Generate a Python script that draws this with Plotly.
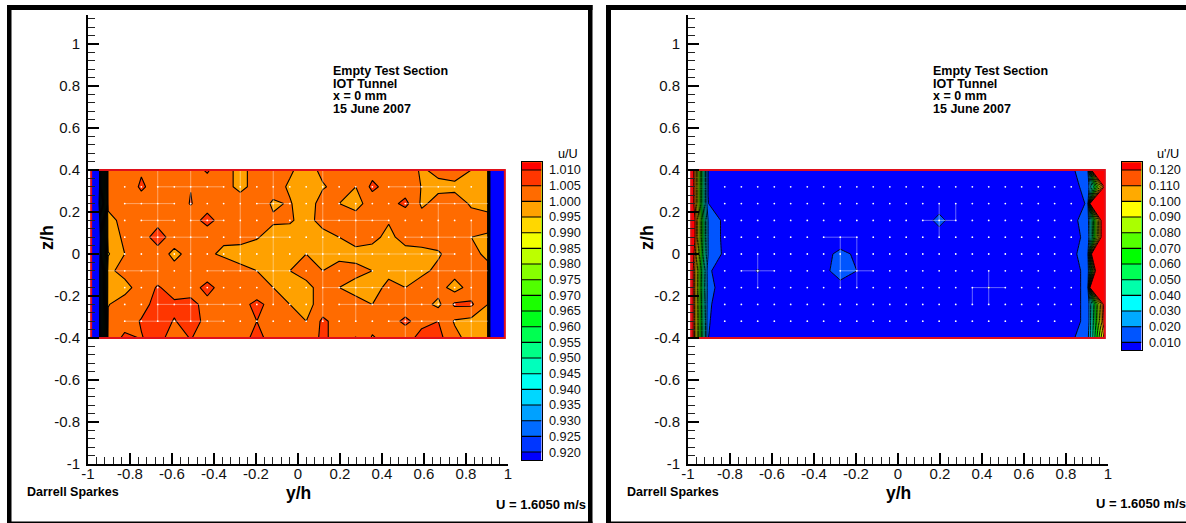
import plotly.graph_objects as go

W, H = 1186, 523

# ---- data -------------------------------------------------------------
y_pos = [-0.985, -0.904, -0.825, -0.746, -0.668, -0.589, -0.511, -0.432, -0.354, -0.275, -0.196, -0.118, -0.039,
         0.039, 0.118, 0.196, 0.275, 0.354, 0.432, 0.511, 0.589, 0.668, 0.746, 0.825, 0.904, 0.985]
z_pos = [0.4, 0.32, 0.24, 0.16, 0.08, 0.0, -0.08, -0.16, -0.24, -0.32, -0.4]

u_mean = [
 [0.84, 1.002, 1.002, 1.0045, 1.003, 1.003, 1.003, 1.0055, 1.002, 0.9985, 1.002, 1.002, 1.0005, 0.9985, 1.0008, 1.002, 1.003, 1.003, 1.003, 1.002, 0.9995, 1.001, 1.002, 1.0, 0.9985, 0.30],
 [0.84, 1.002, 1.002, 1.0057, 1.003, 1.003, 1.0049, 1.003, 1.002, 0.9985, 1.002, 1.0015, 0.9995, 0.998, 0.9997, 1.001, 1.0, 1.0062, 1.003, 1.002, 0.9999, 0.999, 0.999, 0.9999, 0.9999, 0.30],
 [0.85, 1.0012, 1.002, 1.003, 1.003, 1.003, 1.0052, 1.003, 1.003, 1.003, 1.002, 0.9995, 1.0003, 0.998, 1.0015, 1.0, 0.9985, 1.002, 1.003, 1.0065, 0.9992, 1.0015, 1.002, 0.9995, 0.9985, 0.30],
 [0.84, 0.9985, 1.0015, 1.003, 1.0035, 1.003, 1.003, 1.0065, 1.003, 1.002, 1.0015, 1.0005, 1.0005, 0.9985, 1.0015, 1.002, 1.002, 1.002, 1.0003, 1.0001, 1.002, 1.0, 1.002, 1.0015, 1.0015, 0.30],
 [0.83, 0.9985, 1.0005, 1.003, 1.007, 1.003, 1.003, 1.002, 1.0005, 1.0012, 1.0003, 0.9985, 0.998, 0.998, 0.9985, 1.0, 1.002, 1.001, 0.999, 1.0015, 1.0015, 1.002, 1.002, 1.0, 0.9995, 0.30],
 [0.84, 0.9945, 1.0, 1.002, 1.003, 0.9985, 1.002, 1.0005, 0.9995, 0.9985, 0.998, 0.998, 0.9985, 1.0, 0.9985, 0.9985, 0.9985, 0.9985, 0.9985, 0.9985, 0.999, 0.9995, 1.002, 1.002, 0.9985, 0.30],
 [0.84, 0.999, 1.0015, 1.002, 1.002, 1.002, 1.002, 1.002, 1.002, 1.001, 1.0, 0.9985, 1.0, 1.002, 1.0, 1.002, 1.0012, 1.0, 0.999, 0.9985, 0.999, 1.001, 1.002, 1.002, 1.002, 0.30],
 [0.84, 0.999, 0.9985, 1.002, 1.0055, 1.003, 1.003, 1.0065, 1.003, 1.002, 1.001, 1.0, 0.9985, 0.9985, 1.002, 1.0, 0.9985, 0.9985, 1.001, 1.0, 1.002, 1.002, 0.998, 1.002, 1.002, 0.30],
 [0.84, 0.9998, 1.002, 1.0035, 1.0065, 1.0058, 1.0063, 1.0035, 1.003, 1.003, 1.0065, 1.003, 1.0, 0.9985, 1.002, 1.002, 1.0015, 1.0, 1.002, 1.002, 1.002, 0.9988, 1.0058, 1.0058, 1.0, 0.30],
 [0.84, 1.001, 1.003, 1.0053, 1.0065, 1.0048, 1.0065, 1.004, 1.003, 1.003, 1.005, 1.003, 1.002, 1.0, 1.006, 1.003, 1.002, 1.002, 1.003, 1.006, 1.003, 1.005, 0.9995, 0.9985, 0.998, 0.30],
 [0.84, 1.002, 1.006, 1.0048, 1.0065, 1.003, 1.0052, 1.003, 1.002, 1.003, 1.0065, 1.003, 1.003, 1.002, 1.006, 1.003, 1.0052, 0.9995, 1.002, 1.002, 1.0075, 1.0065, 1.0015, 0.998, 0.998, 0.30],
]
u_rms = [
 [0.14, 0.0099, 0.006, 0.006, 0.006, 0.005, 0.006, 0.006, 0.006, 0.006, 0.006, 0.006, 0.006, 0.006, 0.006, 0.006, 0.006, 0.006, 0.006, 0.006, 0.006, 0.006, 0.006, 0.008, 0.0175, 0.50],
 [0.14, 0.0099, 0.006, 0.006, 0.006, 0.006, 0.006, 0.006, 0.006, 0.006, 0.006, 0.006, 0.006, 0.006, 0.006, 0.006, 0.006, 0.006, 0.006, 0.006, 0.006, 0.006, 0.006, 0.007, 0.013, 0.125],
 [0.14, 0.0101, 0.006, 0.006, 0.006, 0.006, 0.006, 0.006, 0.006, 0.006, 0.006, 0.006, 0.006, 0.006, 0.006, 0.007, 0.006, 0.006, 0.006, 0.006, 0.006, 0.006, 0.006, 0.005, 0.0111, 0.90],
 [0.15, 0.0195, 0.00675, 0.006, 0.006, 0.006, 0.006, 0.006, 0.006, 0.006, 0.006, 0.006, 0.006, 0.006, 0.007, 0.0118, 0.007, 0.006, 0.006, 0.006, 0.006, 0.006, 0.006, 0.007, 0.0147, 0.15],
 [0.15, 0.0195, 0.00675, 0.006, 0.006, 0.006, 0.006, 0.006, 0.006, 0.008, 0.007, 0.006, 0.006, 0.006, 0.006, 0.007, 0.006, 0.006, 0.006, 0.006, 0.006, 0.006, 0.006, 0.007, 0.0123, 0.15],
 [0.14, 0.0195, 0.0076, 0.006, 0.0075, 0.006, 0.006, 0.006, 0.009, 0.0108, 0.0095, 0.006, 0.006, 0.006, 0.006, 0.006, 0.006, 0.006, 0.006, 0.006, 0.006, 0.006, 0.006, 0.007, 0.016, 0.50],
 [0.135, 0.0119, 0.003, 0.0075, 0.0103, 0.0075, 0.006, 0.006, 0.0085, 0.0125, 0.0100, 0.006, 0.006, 0.006, 0.006, 0.006, 0.006, 0.006, 0.0085, 0.006, 0.006, 0.006, 0.006, 0.007, 0.0123, 0.25],
 [0.135, 0.0135, 0.005, 0.006, 0.0075, 0.006, 0.006, 0.006, 0.006, 0.008, 0.007, 0.006, 0.006, 0.006, 0.006, 0.006, 0.0085, 0.0085, 0.0101, 0.0085, 0.006, 0.006, 0.006, 0.007, 0.0123, 0.90],
 [0.135, 0.0119, 0.003, 0.006, 0.006, 0.006, 0.006, 0.006, 0.006, 0.006, 0.006, 0.006, 0.006, 0.006, 0.006, 0.006, 0.006, 0.006, 0.0085, 0.006, 0.006, 0.006, 0.006, 0.007, 0.0123, 0.13],
 [0.135, 0.0107, 0.005, 0.006, 0.006, 0.006, 0.006, 0.006, 0.006, 0.006, 0.006, 0.006, 0.006, 0.006, 0.006, 0.006, 0.006, 0.006, 0.006, 0.006, 0.006, 0.006, 0.006, 0.007, 0.0123, 0.125],
 [0.135, 0.0101, 0.006, 0.006, 0.006, 0.006, 0.006, 0.006, 0.006, 0.006, 0.006, 0.006, 0.006, 0.006, 0.006, 0.006, 0.006, 0.006, 0.006, 0.006, 0.006, 0.006, 0.006, 0.008, 0.0175, 0.105],
]

# mesh lines shown in white: (first column, first row, last column, last row), as grid indices
mesh_u = [(3, 3, 5, 3), (6, 3, 8, 3), (2, 2, 5, 2), (1, 6, 4, 6), (4, 8, 9, 8), (2, 9, 8, 9), (9, 4, 12, 4),
          (10, 2, 12, 2), (13, 3, 18, 3), (13, 5, 22, 5), (14, 7, 18, 7), (18, 9, 24, 9), (15, 8, 22, 8),
          (18, 6, 24, 6), (19, 4, 24, 4), (19, 2, 24, 2), (18, 1, 22, 1), (4, 0, 4, 9), (6, 0, 6, 9), (9, 0, 9, 6),
          (11, 0, 11, 8), (14, 0, 14, 9), (16, 2, 16, 9), (19, 6, 19, 10), (21, 2, 21, 8), (23, 3, 23, 10),
          (3, 4, 7, 4), (7, 6, 12, 6), (4, 1, 8, 1)]
mesh_rms = [(3, 6, 5, 6), (4, 5, 4, 7), (8, 4, 10, 4), (10, 4, 10, 7), (9, 4, 9, 7), (9, 6, 11, 6),
            (14, 3, 16, 3), (15, 2, 15, 4), (16, 2, 16, 3), (17, 7, 19, 7), (18, 6, 18, 8), (17, 7, 17, 8)]

levels_u = [0.920, 0.925, 0.930, 0.935, 0.940, 0.945, 0.950, 0.955, 0.960, 0.965,
            0.970, 0.975, 0.980, 0.985, 0.990, 0.995, 1.000, 1.005, 1.010]
levels_rms = [0.010, 0.020, 0.030, 0.040, 0.050, 0.060, 0.070, 0.080, 0.090, 0.100, 0.110, 0.120]

axis_ticks = [-1, -0.8, -0.6, -0.4, -0.2, 0, 0.2, 0.4, 0.6, 0.8, 1]
axis_labels = ["-1", "-0.8", "-0.6", "-0.4", "-0.2", "0", "0.2", "0.4", "0.6", "0.8", "1"]
header_lines = ["Empty Test Section", "IOT Tunnel", "x = 0 mm", "15 June 2007"]

# ---- styling ------------------------------------------------------------
FONT = "Liberation Sans"


def px(x):
    return x / W


def py(y):
    return 1 - y / H


def rainbow(t):
    stops = [(0, 0, 255), (0, 255, 255), (0, 255, 0), (255, 255, 0), (255, 0, 0)]
    s = min(t * 4, 3.9999)
    i = int(s)
    f = s - i
    return tuple(round(stops[i][k] + (stops[i + 1][k] - stops[i][k]) * f) for k in range(3))


def band_scale(n):
    scale = []
    for i in range(n):
        c = "rgb(%d,%d,%d)" % rainbow(i / (n - 1))
        scale.append([i / n, c])
        scale.append([(i + 1) / n, c])
    return scale


def contour(x, y, z, levels, xaxis, yaxis, width):
    step = round(levels[1] - levels[0], 6)
    return go.Contour(
        x=x, y=y, z=z, xaxis=xaxis, yaxis=yaxis, autocontour=False,
        contours=dict(start=levels[0], end=levels[-1], size=step, coloring="fill", showlines=True),
        line=dict(color="black", width=width, smoothing=0),
        colorscale=band_scale(len(levels) + 1),
        zmin=levels[0] - step, zmax=levels[-1] + step,
        hoverinfo="skip", showscale=False,
    )


def legend_range(levels):
    half = (levels[1] - levels[0]) / 2
    return [levels[0] - half, levels[-1] + half]


def legend_trace(levels, xaxis, yaxis):
    lo, hi = legend_range(levels)
    return contour([0, 1], [lo, hi], [[lo, lo], [hi, hi]], levels, xaxis, yaxis, 1.1)


def mesh(segs, xaxis, yaxis):
    xs, ys = [], []
    for c0, r0, c1, r1 in segs:
        xs += [y_pos[c0], y_pos[c1], None]
        ys += [z_pos[r0], z_pos[r1], None]
    return go.Scatter(x=xs, y=ys, mode="lines", xaxis=xaxis, yaxis=yaxis, hoverinfo="skip", showlegend=False,
                      line=dict(color="rgba(255,255,255,0.4)", width=1))


def dots(xaxis, yaxis):
    xs = [a for a in y_pos[2:-2] for _ in z_pos[1:-1]]
    ys = [b for _ in y_pos[2:-2] for b in z_pos[1:-1]]
    return go.Scatter(x=xs, y=ys, mode="markers", xaxis=xaxis, yaxis=yaxis, hoverinfo="skip", showlegend=False,
                      marker=dict(color="white", size=1.8, line=dict(width=0)))


def border(xaxis, yaxis):
    xs = [y_pos[0], y_pos[-1], y_pos[-1], y_pos[0], y_pos[0]]
    ys = [z_pos[0], z_pos[0], z_pos[-1], z_pos[-1], z_pos[0]]
    return go.Scatter(x=xs, y=ys, mode="lines", xaxis=xaxis, yaxis=yaxis, hoverinfo="skip", showlegend=False,
                      line=dict(color="#e0101a", width=2))


fig = go.Figure()
fig.add_trace(contour(y_pos, z_pos, u_mean, levels_u, "x", "y", 1.1))
fig.add_trace(mesh(mesh_u, "x", "y"))
fig.add_trace(dots("x", "y"))
fig.add_trace(border("x", "y"))
fig.add_trace(contour(y_pos, z_pos, u_rms, levels_rms, "x2", "y2", 0.9))
fig.add_trace(mesh(mesh_rms, "x2", "y2"))
fig.add_trace(dots("x2", "y2"))
fig.add_trace(border("x2", "y2"))
fig.add_trace(legend_trace(levels_u, "x3", "y3"))
fig.add_trace(legend_trace(levels_rms, "x4", "y4"))


def axis(domain, standoff, **kw):
    return dict(
        domain=domain, showgrid=False, zeroline=False, showline=True, linecolor="black", linewidth=2,
        automargin=False,
        ticks="inside", ticklen=11, tickwidth=2, tickcolor="black",
        tickmode="array", tickvals=axis_ticks, ticktext=axis_labels,
        tickfont=dict(family=FONT, size=15, color="#111"), ticklabelstandoff=standoff,
        minor=dict(dtick=0.04, ticks="inside", ticklen=7, tickwidth=1, tickcolor="#222", tick0=-1),
        **kw,
    )


def legend_axes(left, levels, anchor):
    lo, hi = legend_range(levels)
    top = 170 - 15.67 / 2
    bottom = top + 15.67 * len(levels)
    xa = dict(domain=[px(left), px(left + 19.5)], range=[0, 1], anchor=anchor, showticklabels=False, ticks="",
              showgrid=False, zeroline=False, showline=True, mirror=True, linecolor="black", linewidth=1,
              automargin=False)
    ya = dict(domain=[py(bottom), py(top)], range=[lo, hi], side="right", showgrid=False, zeroline=False,
              showline=True, mirror=True, linecolor="black", linewidth=1, automargin=False, ticks="",
              tickmode="array", tickvals=levels, ticktext=["%.3f" % v for v in levels],
              tickfont=dict(family=FONT, size=12.7, color="#111"), ticklabelstandoff=4)
    return xa, ya


xr = [-1, 1]
yr = [-1, 1.14]
ydom = [py(464), py(14.6)]
x3, y3 = legend_axes(522, levels_u, "y3")
x4, y4 = legend_axes(1122, levels_rms, "y4")
y3["anchor"] = "x3"
y4["anchor"] = "x4"
layout_axes = dict(
    xaxis=axis([px(88), px(508)], -5, range=xr, anchor="y"),
    yaxis=axis(ydom, 3, range=yr, anchor="x"),
    xaxis2=axis([px(688), px(1108)], -5, range=xr, anchor="y2"),
    yaxis2=axis(ydom, 3, range=yr, anchor="x2"),
    xaxis3=x3, yaxis3=y3, xaxis4=x4, yaxis4=y4,
)

ann = []


def note(text, x, y, size=12, anchor="left", bold=True, angle=0):
    ann.append(dict(text=("<b>%s</b>" % text) if bold else text, x=px(x), y=py(y), xref="paper", yref="paper",
                    xanchor=anchor, yanchor="middle", showarrow=False, textangle=angle,
                    borderpad=0, borderwidth=0,
                    font=dict(family=FONT, size=size, color="black")))


for off in (0, 600):
    for i, line in enumerate(header_lines):
        note(line, 332.5 + off, 71 + i * 12.7, 12.5)
    note("Darrell Sparkes", 26.5 + off, 492, 12.5)
    note("y/h", 298 + off, 492.5, 17.5, "center")
    note("z/h", 47 + off, 238, 18, "center", True, -90)
note("U = 1.6050 m/s", 586, 504, 13, "right")
note("U = 1.6050 m/s", 1186, 503.5, 13, "right")
note("u/U", 568, 153.5, 12.7, "center", False)
note("u'/U", 1168, 153.5, 12.7, "center", False)

shapes = []


def bar(x0, y0, x1, y1):
    shapes.append(dict(type="rect", xref="paper", yref="paper", x0=px(x0), x1=px(x1), y0=py(y1), y1=py(y0),
                       fillcolor="black", line=dict(width=0), layer="above"))


bar(7, 5, 592.5, 10)
bar(7, 5, 11.5, 523)
bar(588, 5, 592.5, 523)
bar(7, 521.5, 592.5, 523)
bar(606, 5, 1186, 10)
bar(606, 5, 611, 523)
bar(606, 521.5, 1186, 523)

fig.update_layout(
    width=W, height=H, margin=dict(l=0, r=0, t=0, b=0, pad=0), autosize=False,
    paper_bgcolor="white", plot_bgcolor="white", showlegend=False,
    annotations=ann, shapes=shapes, font=dict(family=FONT),
    **layout_axes,
)
fig.write_html("out.html", config={"displayModeBar": False},
               post_script="document.body.style.margin='0';document.documentElement.style.overflow='hidden';")
